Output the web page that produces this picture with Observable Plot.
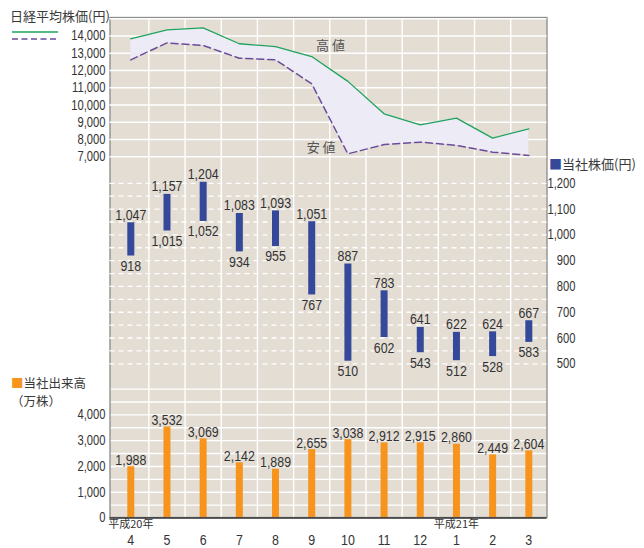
<!DOCTYPE html>
<html><head><meta charset="utf-8">
<script src="https://cdn.jsdelivr.net/npm/d3@7"></script>
<script src="https://cdn.jsdelivr.net/npm/@observablehq/plot@0.6"></script>
<style>
body{margin:0;background:#fff;}
#wrap{position:relative;width:644px;height:548px;overflow:hidden;}
#wrap svg.layer{position:absolute;left:0;top:0;}
.lbl{position:absolute;font-family:"Noto Sans CJK JP",sans-serif;color:#3a3a3a;white-space:nowrap;line-height:1;}
</style></head><body>
<div id="wrap">
  <div class="lbl" style="left:10px;top:9px;font-size:13px;">日経平均株価(円)</div>
  <svg style="position:absolute;left:0;top:26px;" width="70" height="20">
    <line x1="12" x2="58" y1="6" y2="6" stroke="#1fa35c" stroke-width="1.4"/>
    <line x1="12" x2="58" y1="13" y2="13" stroke="#6a4c9c" stroke-width="1.5" stroke-dasharray="6,3.5"/>
  </svg>
  <div class="lbl" style="left:549px;top:156.5px;font-size:13px;"><span style="color:#34499a">■</span>当社株価(円)</div>
  <div class="lbl" style="left:11px;top:374px;font-size:12.5px;line-height:18px;"><span style="color:#f7941d">■</span>当社出来高<br>（万株）</div>
</div>
<script>
// ---- data ----
const months = ["4","5","6","7","8","9","10","11","12","1","2","3"];
const nikkeiHigh = [13840, 14360, 14470, 13550, 13390, 12810, 11370, 9490, 8850, 9240, 8080, 8620];
const nikkeiLow  = [12620, 13600, 13450, 12710, 12620, 11230, 7170, 7710, 7850, 7660, 7270, 7080];
const stockHigh = [1047, 1157, 1204, 1083, 1093, 1051, 887, 783, 641, 622, 624, 667];
const stockLow  = [918, 1015, 1052, 934, 955, 767, 510, 602, 543, 512, 528, 583];
const volume    = [1988, 3532, 3069, 2142, 1889, 2655, 3038, 2912, 2915, 2860, 2449, 2604];
const nikkeiTicks = [7000, 8000, 9000, 10000, 11000, 12000, 13000, 14000];
const stockTicks  = [500, 600, 700, 800, 900, 1000, 1100, 1200];
const volumeTicks = [0, 1000, 2000, 3000, 4000];
const eraLabels = ["平成20年", "平成21年"];
const eraMonthIndex = [0, 9];

const rows = months.map((m, i) => ({i, x: i + 0.5, m,
  nh: nikkeiHigh[i], nl: nikkeiLow[i], sh: stockHigh[i], sl: stockLow[i], v: volume[i]}));
const eras = eraLabels.map((t, k) => ({t, x: eraMonthIndex[k] + 0.5}));

const BG = "#e3ddd3", LAV = "#ecebf6", GREEN = "#1fa35c", PURPLE = "#6a4c9c",
      NAVY = "#34499a", ORANGE = "#f7941d";
const NUMFONT = "'Liberation Sans',Arial,sans-serif";
const CJK = "'Noto Sans CJK JP',sans-serif";
const fmt = d3.format(",");
const SQUEEZE = 0.8;

const common = {
  width: 644, height: 548,
  marginLeft: 109.5, marginRight: 97.5, marginTop: 17, marginBottom: 31,
  x: {domain: [0, 12], range: [112.2, 546.4], axis: null, label: null},
  style: {background: "transparent", color: "#333", fontFamily: NUMFONT, fontSize: "14px", overflow: "visible"}
};

const wrap = document.getElementById("wrap");
// horizontally condense numeric labels (the reference uses a narrow typeface)
function condense(svg) {
  svg.querySelectorAll("text").forEach(t => {
    if (!/^[\d,]+$/.test(t.textContent.trim())) return;
    const x = t.getAttribute("x");
    if (x != null && /^-?[\d.]+$/.test(x.trim())) t.setAttribute("x", +x / SQUEEZE);
    const tr = t.getAttribute("transform") || "";
    t.setAttribute("transform", `${tr} scale(${SQUEEZE},1)`);
  });
}
function add(opts) {
  const svg = Plot.plot({...common, ...opts});
  svg.classList.add("layer");
  condense(svg);
  wrap.appendChild(svg);
}

// Layer A: background, grid, volume bars, x axis
add({
  y: {domain: [0, 5000], range: [517.5, 388.6], axis: null, label: null},
  marks: [
    Plot.frame({fill: BG}),
    Plot.ruleX(d3.range(1, 12), {stroke: "#fff", strokeWidth: 1.4}),
    Plot.ruleY(d3.range(500, 5001, 500), {stroke: "#fff", strokeWidth: 1.4}),
    Plot.ruleX(rows, {x: "x", y1: 0, y2: "v", stroke: ORANGE, strokeWidth: 7}),
    Plot.text(rows, {x: "x", y: "v", text: d => fmt(d.v), lineAnchor: "bottom", dy: -2, fontSize: 15.5}),
    Plot.axisY({ticks: volumeTicks, tickSize: 0, tickPadding: 4.5, tickFormat: fmt, label: null, fontSize: 14}),
    Plot.axisX({ticks: rows.map(d => d.x), tickFormat: d => months[Math.floor(d)], tickSize: 0, tickPadding: 16, label: null, fontSize: 15.5}),
    Plot.text(eras, {x: "x", text: "t", frameAnchor: "bottom", lineAnchor: "top", dy: 3, fontSize: 11, fontFamily: CJK}),
    Plot.frame({stroke: "#8a8a8a", strokeWidth: 1.3}),
    Plot.ruleY([0], {stroke: "#333", strokeWidth: 1.6})
  ]
});

// Layer B: Nikkei high/low
add({
  y: {domain: [7000, 14000], range: [156.3, 35.5], axis: null, label: null},
  marks: [
    Plot.ruleY(d3.range(7000, 15001, 1000), {stroke: "#fff", strokeWidth: 1.4}),
    Plot.areaY(rows, {x: "x", y1: "nl", y2: "nh", fill: LAV}),
    Plot.lineY(rows, {x: "x", y: "nh", stroke: GREEN, strokeWidth: 1.3}),
    Plot.lineY(rows, {x: "x", y: "nl", stroke: PURPLE, strokeWidth: 1.5, strokeDasharray: "7,4"}),
    Plot.text([{t: "高 値", x: 6.02, y: 13410}, {t: "安 値", x: 5.76, y: 7500}],
      {x: "x", y: "y", text: "t", fontSize: 13, fontFamily: CJK, fill: "#555"}),
    Plot.axisY({ticks: nikkeiTicks, tickSize: 0, tickPadding: 4.5, tickFormat: fmt, label: null, fontSize: 14})
  ]
});

// Layer C: company stock price high/low
add({
  y: {domain: [500, 1200], range: [363.3, 182.8], axis: null, label: null},
  marks: [
    Plot.ruleY(d3.range(500, 1201, 50), {stroke: "#fff", strokeWidth: 1.3, strokeDasharray: "5,4"}),
    Plot.ruleX(rows, {x: "x", y1: "sl", y2: "sh", stroke: NAVY, strokeWidth: 7}),
    Plot.text(rows, {x: "x", y: "sh", text: d => fmt(d.sh), lineAnchor: "bottom", dy: -3, fontSize: 15.5}),
    Plot.text(rows, {x: "x", y: "sl", text: d => fmt(d.sl), lineAnchor: "top", dy: 4, fontSize: 15.5}),
    Plot.axisY({anchor: "right", ticks: stockTicks, tickSize: 0, tickPadding: 28.5, textAnchor: "end", tickFormat: fmt, label: null, fontSize: 14})
  ]
});
</script>
</body></html>
